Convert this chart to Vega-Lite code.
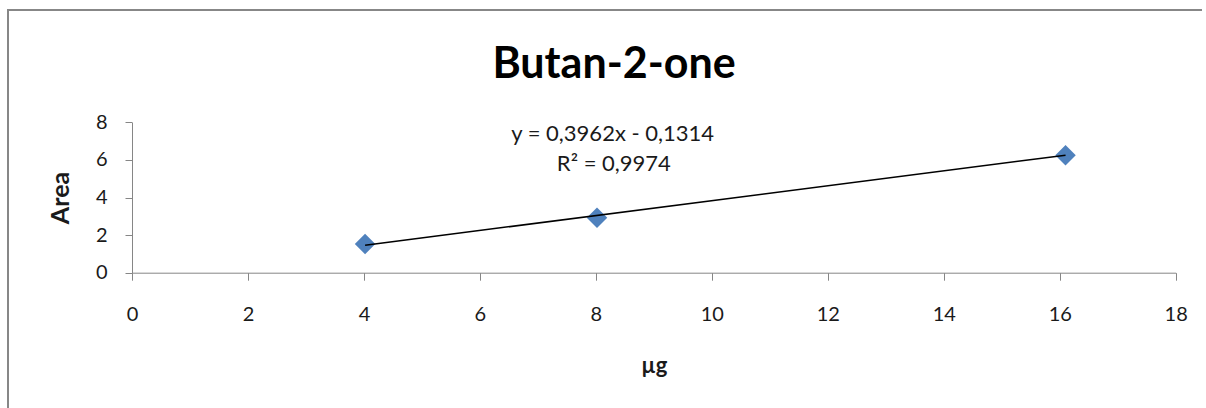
{
  "$schema": "https://vega.github.io/schema/vega-lite/v6.json",
  "width": 1198,
  "height": 398,
  "autosize": {"type": "none"},
  "padding": {"left": 8, "top": 10, "right": 0, "bottom": 0},
  "background": "white",
  "config": {
    "font": "Lato"
  },
  "view": {"stroke": "#878787", "strokeWidth": 2, "strokeDash": [1194, 1600, 398], "strokeDashOffset": 0},
  "title": {
    "text": "Butan-2-one",
    "font": "Lato",
    "fontSize": 43,
    "fontWeight": "bold",
    "color": "#000000",
    "anchor": "middle",
    "frame": "group",
    "offset": 0,
    "baseline": "alphabetic",
    "dy": 111,
    "dx": 7
  },
  "datasets": {
    "measured": [
      {"ug": 4.02, "area": 1.53},
      {"ug": 8.02, "area": 2.92},
      {"ug": 16.1, "area": 6.25}
    ],
    "trend": [
      {"ug": 4.02, "area": 1.4613},
      {"ug": 16.1, "area": 6.2474}
    ],
    "equation": [
      {"ug": 8.29, "area": 7.38, "eq": "y = 0,3962x - 0,1314"},
      {"ug": 8.31, "area": 5.77, "eq": "R² = 0,9974"}
    ]
  },
  "encoding": {
    "x": {
      "field": "ug",
      "type": "quantitative",
      "scale": {"domain": [0, 18], "range": [124, 1167.7], "nice": false, "zero": false},
      "axis": {
        "orient": "bottom",
        "offset": -135.3,
        "values": [0, 2, 4, 6, 8, 10, 12, 14, 16, 18],
        "grid": false,
        "domainColor": "#868686",
        "tickColor": "#868686",
        "tickSize": 7.5,
        "labelFont": "Lato",
        "labelFontSize": 20,
        "labelPadding": 24,
        "labelColor": "#1a1a1a",
        "labelFlush": false,
        "labelOverlap": false,
        "title": "µg",
        "titleFont": "Lato",
        "titleFontSize": 22,
        "titleFontWeight": "bold",
        "titleColor": "#1a1a1a",
        "titleY": 100,
        "titleBaseline": "alphabetic"
      }
    },
    "y": {
      "field": "area",
      "type": "quantitative",
      "scale": {"domain": [0, 8], "range": [262.7, 112.3], "nice": false, "zero": false},
      "axis": {
        "orient": "left",
        "offset": -124,
        "values": [0, 2, 4, 6, 8],
        "grid": false,
        "domainColor": "#868686",
        "tickColor": "#868686",
        "tickSize": 7,
        "labelFont": "Lato",
        "labelFontSize": 20,
        "labelPadding": 18,
        "labelColor": "#1a1a1a",
        "labelFlush": false,
        "labelOverlap": false,
        "title": "Area",
        "titleFont": "Lato",
        "titleFontSize": 25,
        "titleFontWeight": "bold",
        "titleColor": "#1a1a1a",
        "titleAngle": -90,
        "titleX": -64,
        "titleBaseline": "alphabetic"
      }
    }
  },
  "layer": [
    {
      "data": {"name": "measured"},
      "mark": {"type": "point", "shape": "diamond", "filled": true, "size": 420, "color": "#4F81BD", "opacity": 1, "strokeWidth": 0}
    },
    {
      "data": {"name": "trend"},
      "mark": {"type": "line", "color": "#000000", "strokeWidth": 1.5}
    },
    {
      "data": {"name": "equation"},
      "mark": {"type": "text", "font": "Lato", "fontSize": 22, "color": "#1a1a1a", "align": "center", "baseline": "middle"},
      "encoding": {"text": {"field": "eq", "type": "nominal"}}
    }
  ]
}
